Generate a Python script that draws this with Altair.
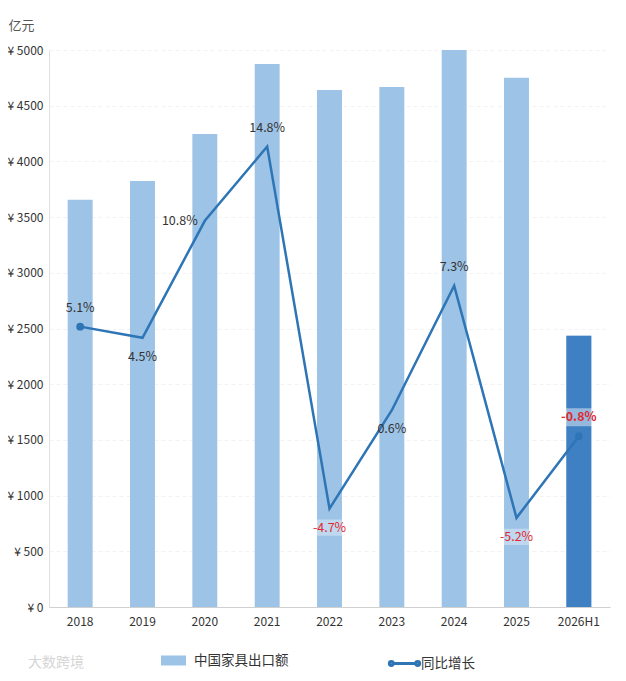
import pandas as pd
import altair as alt

# data
years = ['2018', '2019', '2020', '2021', '2022', '2023', '2024', '2025', '2026H1']
export_value = [3655, 3825, 4245, 4875, 4640, 4668, 5000, 4750, 2435]  # 亿元
growth = [5.1, 4.5, 10.8, 14.8, -4.7, 0.6, 7.3, -5.2, -0.8]  # %

df = pd.DataFrame({'year': years, 'value': export_value, 'rate': growth})
df['bar_series'] = '中国家具出口额'
df['line_series'] = '同比增长'
df['label'] = df['rate'].map(lambda v: f'{v:.1f}%')

FONT = 'Noto Sans CJK SC'
LIGHT = '#9DC3E6'
DARK = '#3F80C2'
LINE = '#2E75B6'
RED = '#E3262D'

x = alt.X('year:N', sort=years, title=None,
          scale=alt.Scale(paddingInner=0.6, paddingOuter=0.3),
          axis=alt.Axis(labelAngle=0, labelColor='#333', labelFontSize=12, labelFont=FONT,
                        ticks=False, domainColor='#d0d0d0', labelPadding=9, grid=False))

base = alt.Chart(df)

bars = base.mark_bar().encode(
    x=x,
    y=alt.Y('value:Q', title='亿元', scale=alt.Scale(domain=[0, 5000]),
            axis=alt.Axis(values=list(range(0, 5001, 500)),
                          labelExpr="'¥ ' + datum.value", labelColor='#333',
                          labelFontSize=12, labelFont=FONT, ticks=False, labelPadding=6,
                          domainColor='#e0e0e0', gridColor='#f2f2f2', gridDash=[4, 3],
                          titleAngle=0, titleAlign='left', titleBaseline='middle',
                          titleX=-41, titleY=-25, titleColor='#555', titleFontSize=13,
                          titleFontWeight='normal', titleFont=FONT)),
    color=alt.Color('bar_series:N', title=None,
                    scale=alt.Scale(domain=['中国家具出口额'], range=[LIGHT]),
                    legend=alt.Legend(orient='none', legendX=111, legendY=597,
                                      symbolType='M-1,-0.4H1V0.4H-1Z', symbolSize=625,
                                      labelFontSize=13.5, labelFont=FONT, labelColor='#333',
                                      padding=0, labelOffset=7))
)

bar_h1 = base.mark_bar(color=DARK).encode(
    x=x, y='value:Q'
).transform_filter(alt.datum.year == '2026H1')

y2 = alt.Y('rate:Q', scale=alt.Scale(domain=[-10, 20]), axis=None)

line = base.mark_line(strokeWidth=2.5).encode(
    x=x, y=y2,
    stroke=alt.Stroke('line_series:N', title=None,
                      scale=alt.Scale(domain=['同比增长'], range=[LINE]),
                      legend=alt.Legend(orient='none', legendX=339, legendY=597,
                                        symbolType='M-0.88,0H0.88M-0.88,-0.13a0.13,0.13 0 1,0 0,0.26a0.13,0.13 0 1,0 0,-0.26M0.88,-0.13a0.13,0.13 0 1,0 0,0.26a0.13,0.13 0 1,0 0,-0.26',
                                        symbolSize=900, symbolStrokeWidth=3,
                                        labelFontSize=13.5, labelFont=FONT, labelColor='#333',
                                        padding=0, labelOffset=0))
)

dots = base.mark_point(filled=True, size=60, color=LINE, opacity=1).encode(
    x=x, y=y2
).transform_filter(alt.FieldOneOfPredicate(field='year', oneOf=['2018', '2026H1']))

label_color = alt.condition(alt.datum.rate < 0, alt.value(RED), alt.value('#333'))

# faint boxes behind the negative labels
boxes_below = base.mark_point(shape='M-1,-0.45H1V0.45H-1Z', size=1300, filled=True,
                              color='white', opacity=0.35, yOffset=19).encode(
    x=x, y=y2
).transform_filter(alt.FieldOneOfPredicate(field='year', oneOf=['2022', '2025']))

box_h1 = base.mark_point(shape='M-1,-0.45H1V0.45H-1Z', size=1600, filled=True,
                         color='white', opacity=0.45, yOffset=-19).encode(
    x=x, y=y2
).transform_filter(alt.datum.year == '2026H1')

txt = dict(font=FONT, fontSize=12.5, align='center', baseline='middle')

above = base.mark_text(dy=-19, **txt).encode(
    x=x, y=y2, text='label:N', color=label_color
).transform_filter(alt.FieldOneOfPredicate(field='year', oneOf=['2018', '2021', '2024']))

above_h1 = base.mark_text(dy=-19, fontWeight='bold', color=RED, **txt).encode(
    x=x, y=y2, text='label:N'
).transform_filter(alt.datum.year == '2026H1')

below = base.mark_text(dy=19, **txt).encode(
    x=x, y=y2, text='label:N', color=label_color
).transform_filter(alt.FieldOneOfPredicate(field='year', oneOf=['2019', '2022', '2023', '2025']))

left = base.mark_text(dx=-25, **txt).encode(
    x=x, y=y2, text='label:N', color=label_color
).transform_filter(alt.datum.year == '2020')

mark_note = base.mark_text(text='大数跨境', font=FONT, fontSize=14, color='#d6d6d6',
                           align='left', baseline='middle').encode(
    x=alt.value(-21), y=alt.value(613)
).transform_filter(alt.datum.year == '2018')

left_layer = alt.layer(bars, bar_h1)
right_layer = alt.layer(line, dots, boxes_below, box_h1, above, above_h1, below, left, mark_note)

chart = alt.layer(left_layer, right_layer).resolve_scale(
    y='independent', color='independent', stroke='independent'
).properties(
    width=561, height=557,
    autosize=alt.AutoSizeParams(type='none'),
    padding={'left': 41, 'top': 42, 'right': 8, 'bottom': 66}
).configure_view(stroke=None)

chart.save("out.html", embed_options={"renderer": "svg", "actions": False})
